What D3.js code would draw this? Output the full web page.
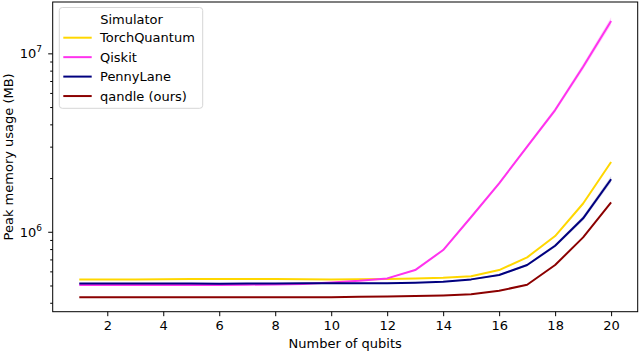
<!DOCTYPE html>
<html>
<head>
<meta charset="utf-8">
<script src="https://cdn.jsdelivr.net/npm/d3@7"></script>
<style>
    body { margin: 0; background: #fff; }
    svg { font-family: "DejaVu Sans", sans-serif; }
</style>
</head>
<body>
<div id="chart"></div>
<script>
// data
const qubits = [1, 2, 3, 4, 5, 6, 7, 8, 9, 10, 11, 12, 13, 14, 15, 16, 17, 18, 19, 20];

const torchquantum = [5.40e5, 5.41e5, 5.41e5, 5.42e5, 5.43e5, 5.44e5, 5.43e5, 5.44e5, 5.42e5, 5.41e5, 5.42e5, 5.43e5,
    5.47e5, 5.52e5, 5.64e5, 6.10e5, 7.19e5, 9.46e5, 1.44e6, 2.46e6];
const qiskit = [5.03e5, 5.03e5, 5.03e5, 5.03e5, 5.03e5, 5.03e5, 5.05e5, 5.07e5, 5.10e5, 5.20e5, 5.31e5, 5.48e5,
    6.10e5, 7.90e5, 1.21e6, 1.87e6, 3.00e6, 4.81e6, 8.41e6, 1.52e7];
const pennylane = [5.13e5, 5.13e5, 5.13e5, 5.13e5, 5.13e5, 5.12e5, 5.13e5, 5.13e5, 5.14e5, 5.14e5, 5.15e5, 5.15e5,
    5.18e5, 5.25e5, 5.41e5, 5.72e5, 6.51e5, 8.35e5, 1.19e6, 1.97e6];
const qandle = [4.29e5, 4.30e5, 4.30e5, 4.29e5, 4.29e5, 4.29e5, 4.30e5, 4.30e5, 4.30e5, 4.30e5, 4.32e5, 4.34e5,
    4.36e5, 4.40e5, 4.46e5, 4.67e5, 5.05e5, 6.51e5, 9.30e5, 1.46e6];

// half width of the shaded confidence band, as a ratio
const qiskitBand = [1.0, 1.0, 1.0, 1.0, 1.0, 1.0, 1.0, 1.0, 1.0, 1.0, 1.0, 1.005,
    1.01, 1.01, 1.015, 1.02, 1.02, 1.03, 1.04, 1.05];
const pennylaneBand = [1.005, 1.005, 1.005, 1.005, 1.005, 1.005, 1.005, 1.005, 1.005, 1.005, 1.005, 1.005,
    1.005, 1.005, 1.01, 1.01, 1.015, 1.02, 1.03, 1.04];

const seriesNames = ["TorchQuantum", "Qiskit", "PennyLane", "qandle (ours)"];
const seriesColors = ["#ffd700", "#ff33ee", "#00007f", "#8b0000"];
const seriesValues = [torchquantum, qiskit, pennylane, qandle];
const seriesBands = [null, qiskitBand, pennylaneBand, null];

const xTicks = [2, 4, 6, 8, 10, 12, 14, 16, 18, 20];
const yMajor = [1e6, 1e7];

const width = 640;
const height = 353;
const margin = { top: 2, right: 2.3, bottom: 41.3, left: 52.7 };

let svg = d3.select("#chart")
    .append("svg")
    .attr("width", width)
    .attr("height", height);

let x = d3.scaleLinear()
    .domain([0.05, 20.95])
    .range([margin.left, width - margin.right]);

let y = d3.scaleLog()
    .domain([3.565e5, 1.94e7])
    .range([height - margin.bottom, margin.top]);

// bands
seriesValues.forEach(function (vals, i) {
    let band = seriesBands[i];
    if (!band) return;
    svg.append("path")
        .datum(qubits)
        .attr("fill", seriesColors[i])
        .attr("opacity", 0.2)
        .attr("d", d3.area()
            .x(d => x(d))
            .y0((d, j) => y(vals[j] / band[j]))
            .y1((d, j) => y(vals[j] * band[j])));
});

// lines
seriesValues.forEach(function (vals, i) {
    svg.append("path")
        .datum(qubits)
        .attr("fill", "none")
        .attr("stroke", seriesColors[i])
        .attr("stroke-width", 2)
        .attr("stroke-linejoin", "round")
        .attr("d", d3.line()
            .x(d => x(d))
            .y((d, j) => y(vals[j])));
});

// x axis
let xAxis = svg.append("g")
    .attr("transform", "translate(0," + (height - margin.bottom) + ")")
    .call(d3.axisBottom(x)
        .tickValues(xTicks)
        .tickSize(4.5)
        .tickPadding(4.6)
        .tickSizeOuter(0));
xAxis.select(".domain").remove();
xAxis.selectAll("text").attr("font-size", 13).attr("fill", "#000").attr("font-family", "DejaVu Sans");
xAxis.selectAll("line").attr("stroke", "#000").attr("stroke-width", 1);

// y axis: minor ticks everywhere, labels only on decades
let yTickVals = y.ticks().filter(d => d >= y.domain()[0] && d <= y.domain()[1]);
let yAxis = svg.append("g")
    .attr("transform", "translate(" + margin.left + ",0)")
    .call(d3.axisLeft(y)
        .tickValues(yTickVals)
        .tickFormat("")
        .tickSizeOuter(0));
yAxis.select(".domain").remove();
yAxis.selectAll(".tick line")
    .attr("stroke", "#000")
    .attr("x2", d => yMajor.includes(d) ? -4.5 : -2.5);

yMajor.forEach(function (v) {
    let t = svg.append("text")
        .attr("x", 42)
        .attr("y", y(v) + 5)
        .attr("text-anchor", "end")
        .attr("font-size", 13)
        .attr("fill", "#000");
    t.append("tspan").text("10");
    t.append("tspan")
        .attr("font-size", 9)
        .attr("dy", -6)
        .text(String(Math.round(Math.log10(v))));
});

// frame
svg.append("rect")
    .attr("x", margin.left)
    .attr("y", margin.top)
    .attr("width", width - margin.left - margin.right)
    .attr("height", height - margin.top - margin.bottom)
    .attr("fill", "none")
    .attr("stroke", "#000")
    .attr("stroke-width", 1);

// axis labels
svg.append("text")
    .attr("x", (margin.left + width - margin.right) / 2)
    .attr("y", 348)
    .attr("text-anchor", "middle")
    .attr("font-size", 13)
    .text("Number of qubits");

svg.append("text")
    .attr("transform", "translate(13," + ((margin.top + height - margin.bottom) / 2) + ") rotate(-90)")
    .attr("text-anchor", "middle")
    .attr("font-size", 13)
    .text("Peak memory usage (MB)");

// legend
let legend = svg.append("g");
legend.append("rect")
    .attr("x", 59.3)
    .attr("y", 7.5)
    .attr("width", 143.4)
    .attr("height", 100.8)
    .attr("rx", 3)
    .attr("fill", "#fff")
    .attr("fill-opacity", 0.8)
    .attr("stroke", "#d6d6d6");
legend.append("text")
    .attr("x", 131.5)
    .attr("y", 23.5)
    .attr("text-anchor", "middle")
    .attr("font-size", 13)
    .text("Simulator");
seriesNames.forEach(function (name, i) {
    let yy = 37.7 + i * 19.45;
    legend.append("line")
        .attr("x1", 63.3)
        .attr("x2", 91.7)
        .attr("y1", yy)
        .attr("y2", yy)
        .attr("stroke", seriesColors[i])
        .attr("stroke-width", 2);
    legend.append("text")
        .attr("x", 100)
        .attr("y", yy + 4.7)
        .attr("font-size", 13)
        .text(name);
});
</script>
</body>
</html>
